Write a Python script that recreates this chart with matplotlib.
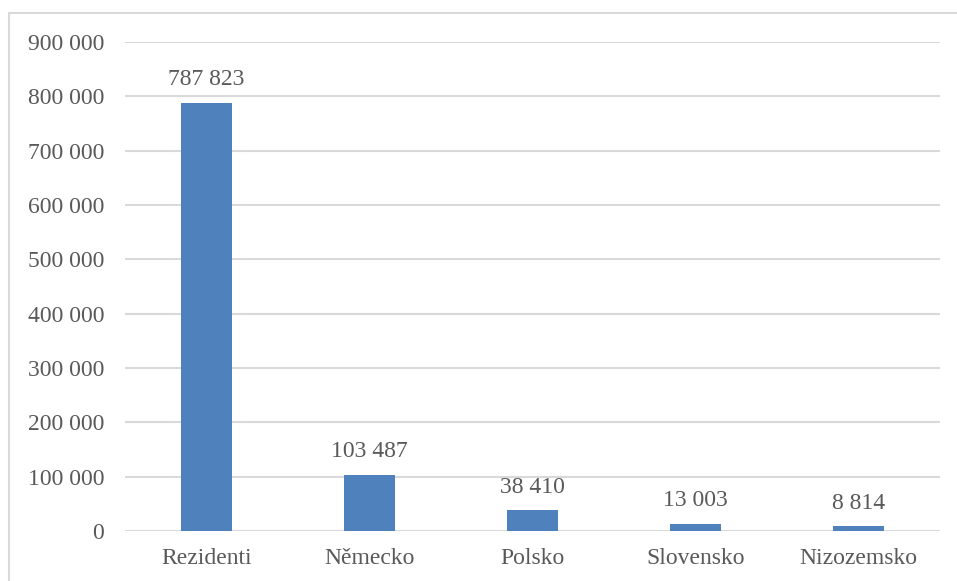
import matplotlib
matplotlib.use("Agg")
import matplotlib.pyplot as plt
from matplotlib.patches import Rectangle
from matplotlib.ticker import FuncFormatter

plt.rcParams["font.family"] = ["Liberation Serif", "DejaVu Serif"]

categories = ["Rezidenti", "Německo", "Polsko", "Slovensko", "Nizozemsko"]
values = [787823, 103487, 38410, 13003, 8814]
y_ticks = list(range(0, 900001, 100000))

BAR_COLOR = "#4F81BD"
TEXT_COLOR = "#595959"
GRID_COLOR = "#D9D9D9"


def fmt_thousands(v, pos=None):
    return f"{int(v):,}".replace(",", " ")


W, H = 957, 581
fig = plt.figure(figsize=(W / 100, H / 100), dpi=100)
ax = fig.add_axes([125 / W, 1 - 531 / H, (940 - 125) / W, (531 - 42) / H])

x = range(len(categories))
bars = ax.bar(x, values, width=0.315, color=BAR_COLOR, zorder=3)

for rect, v in zip(bars, values):
    ax.annotate(fmt_thousands(v), xy=(rect.get_x() + rect.get_width() / 2, v),
                xytext=(0, 9), textcoords="offset points",
                ha="center", va="bottom", fontsize=17, color=TEXT_COLOR)

ax.set_xlim(-0.5, len(categories) - 0.5)
ax.set_ylim(0, 900000)
ax.set_yticks(y_ticks)
ax.yaxis.set_major_formatter(FuncFormatter(fmt_thousands))
ax.set_xticks(list(x))
ax.set_xticklabels(categories)
ax.tick_params(axis="both", length=0, labelsize=17, labelcolor=TEXT_COLOR)
ax.tick_params(axis="y", pad=15)
ax.tick_params(axis="x", pad=12)

ax.grid(axis="y", color=GRID_COLOR, linewidth=1.5, zorder=0)
for s in ax.spines.values():
    s.set_visible(False)

# chart area frame (open at the bottom and right edge of the canvas)
fig.add_artist(Rectangle((9 / W, -0.1), 1.0, 1 - 13 / H + 0.1,
                         transform=fig.transFigure, fill=False,
                         edgecolor=GRID_COLOR, linewidth=1.5))

fig.savefig("out.png", dpi=100)
